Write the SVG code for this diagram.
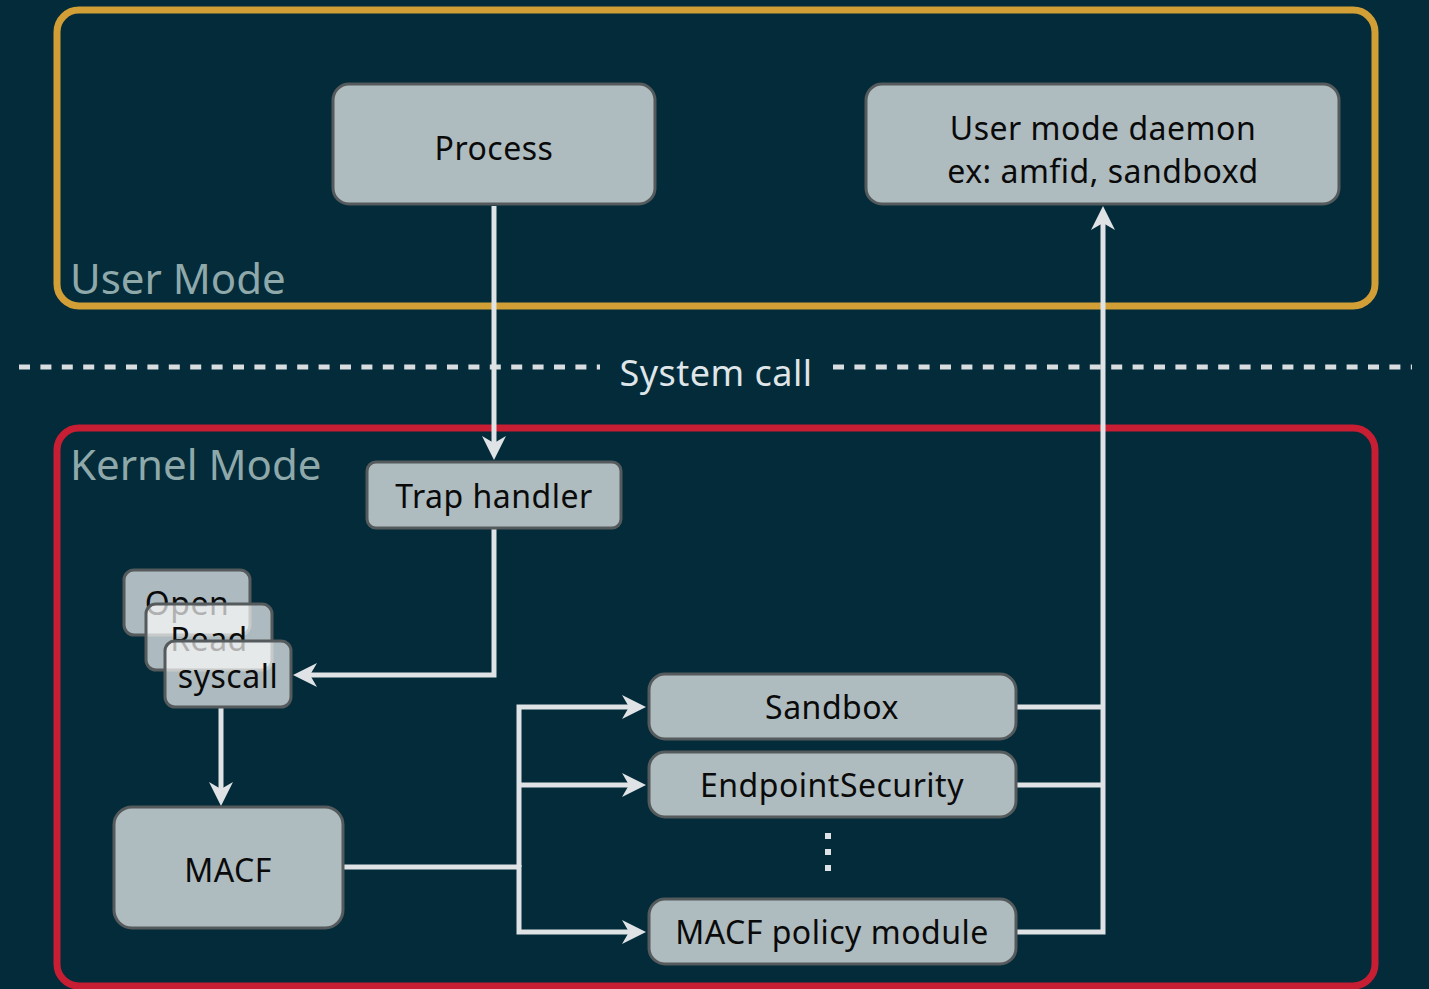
<svg xmlns="http://www.w3.org/2000/svg" width="1429" height="989" viewBox="0 0 1429 989">
  <style>
    .box { fill: #aebbbf; stroke: #555a5c; stroke-width: 3; }
    .stack { fill: #ffffff; fill-opacity: 0.68; stroke: #555a5c; stroke-width: 3; }
    .lbl { font-family: "Noto Sans", Lato, sans-serif; font-size: 32px; letter-spacing: 0.5px; fill: #0a0a0a; text-anchor: middle; }
    .zone { font-family: "Noto Sans", Lato, sans-serif; font-size: 42px; fill: #8fa9ab; }
    .wire { fill: none; stroke: #dfe3e5; stroke-width: 5; }
  </style>
  <defs>
    <!-- notched arrowhead; the wire ends at the notch, tip sits 17 units further -->
    <marker id="arrow" markerUnits="userSpaceOnUse" markerWidth="30" markerHeight="30" viewBox="-10 -15 30 30" refX="0" refY="0" orient="auto">
      <path d="M17,0 L-7,-12 L0,0 L-7,12 Z" fill="#dfe3e5"/>
    </marker>
  </defs>

  <rect width="1429" height="989" fill="#032b39"/>

  <!-- mode regions -->
  <g id="user-mode">
    <rect x="57" y="10" width="1318" height="296" rx="22" fill="none" stroke="#d29f36" stroke-width="7"/>
    <text class="zone" x="70" y="294">User Mode</text>
  </g>
  <g id="kernel-mode">
    <rect x="57" y="428" width="1318" height="558" rx="22" fill="none" stroke="#c81e34" stroke-width="7"/>
    <text class="zone" x="70" y="480">Kernel Mode</text>
  </g>

  <!-- boundary between user and kernel space -->
  <g id="system-call">
    <line x1="19" y1="367" x2="600" y2="367" stroke="#d9dde0" stroke-width="5" stroke-dasharray="11 10.4"/>
    <line x1="833" y1="367" x2="1412" y2="367" stroke="#d9dde0" stroke-width="5" stroke-dasharray="11 10.4"/>
    <text x="716" y="386" font-family="'Noto Sans', Lato, sans-serif" font-size="36" letter-spacing="0.5" fill="#dfe5e8" text-anchor="middle">System call</text>
  </g>

  <!-- connectors -->
  <g id="connectors">
    <path class="wire" d="M494,206 V443" marker-end="url(#arrow)"/>
    <path class="wire" d="M494,529 V675 H310" marker-end="url(#arrow)"/>
    <path class="wire" d="M221,708 V789" marker-end="url(#arrow)"/>
    <path class="wire" d="M344,867 H519"/>
    <path class="wire" d="M519,867 V707 H629" marker-end="url(#arrow)"/>
    <path class="wire" d="M519,785 H629" marker-end="url(#arrow)"/>
    <path class="wire" d="M519,865 V932 H629" marker-end="url(#arrow)"/>
    <path class="wire" d="M1016,707 H1103"/>
    <path class="wire" d="M1016,785 H1103"/>
    <path class="wire" d="M1016,932 H1103 V223" marker-end="url(#arrow)"/>
  </g>

  <g id="process">
    <rect class="box" x="333" y="84" width="322" height="120" rx="16"/>
    <text class="lbl" x="494" y="160">Process</text>
  </g>
  <g id="daemon">
    <rect class="box" x="866" y="84" width="473" height="120" rx="16"/>
    <text class="lbl" x="1103" y="140">User mode daemon</text>
    <text class="lbl" x="1103" y="183">ex: amfid, sandboxd</text>
  </g>
  <g id="trap-handler">
    <rect class="box" x="367" y="462" width="254" height="66" rx="9"/>
    <text class="lbl" x="494" y="508">Trap handler</text>
  </g>

  <!-- stacked syscall cards -->
  <g id="syscall-open">
    <rect class="stack" x="124" y="570" width="126" height="65" rx="10"/>
    <text class="lbl" x="187" y="615">Open</text>
  </g>
  <g id="syscall-read">
    <rect class="stack" x="146" y="604" width="126" height="66" rx="10"/>
    <text class="lbl" x="209" y="651">Read</text>
  </g>
  <g id="syscall">
    <rect class="stack" x="165" y="641" width="126" height="66" rx="10"/>
    <text class="lbl" x="228" y="688">syscall</text>
  </g>

  <g id="macf">
    <rect class="box" x="114" y="807" width="229" height="121" rx="18"/>
    <text class="lbl" x="228" y="882">MACF</text>
  </g>
  <g id="sandbox">
    <rect class="box" x="649" y="674" width="367" height="65" rx="16"/>
    <text class="lbl" x="832" y="719">Sandbox</text>
  </g>
  <g id="endpoint-security">
    <rect class="box" x="649" y="752" width="367" height="65" rx="16"/>
    <text class="lbl" x="832" y="797">EndpointSecurity</text>
  </g>
  <g id="ellipsis">
    <rect x="825" y="833" width="6" height="6" fill="#dfe3e5"/>
    <rect x="825" y="849" width="6" height="6" fill="#dfe3e5"/>
    <rect x="825" y="865" width="6" height="6" fill="#dfe3e5"/>
  </g>
  <g id="policy-module">
    <rect class="box" x="649" y="899" width="367" height="65" rx="16"/>
    <text class="lbl" x="832" y="944">MACF policy module</text>
  </g>
</svg>
